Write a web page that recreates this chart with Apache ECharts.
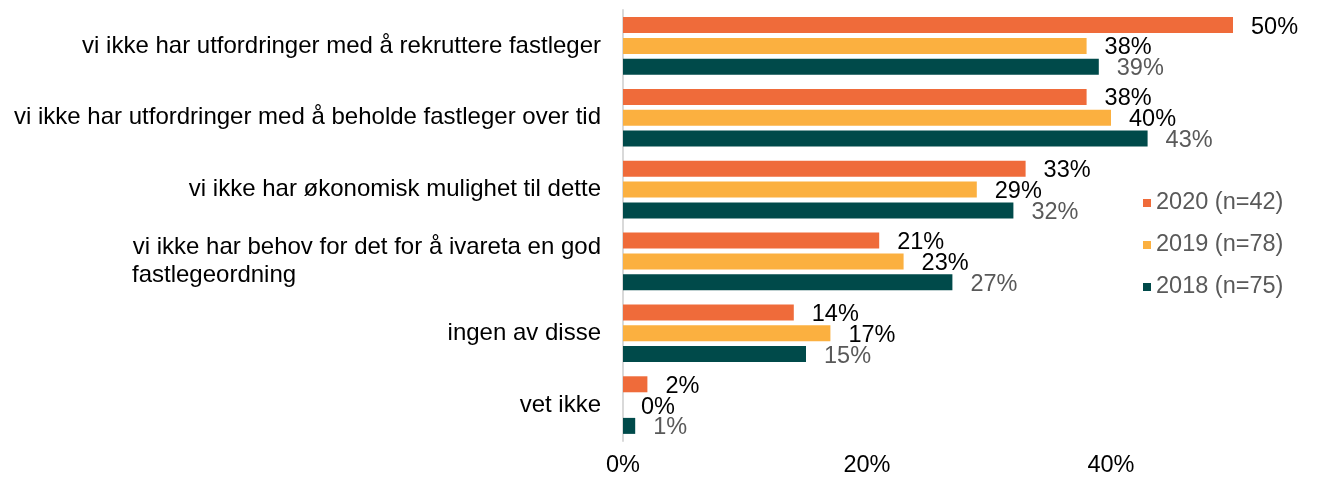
<!DOCTYPE html>
<html>
<head>
<meta charset="utf-8">
<script src="https://cdn.jsdelivr.net/npm/echarts@6/dist/echarts.min.js"></script>
<style>
  html, body { margin: 0; padding: 0; background: #fff; }
  #chart { width: 1317px; height: 480px; }
</style>
</head>
<body>
<div id="chart"></div>
<script>
const categories = [
  'vi ikke har utfordringer med å rekruttere fastleger',
  'vi ikke har utfordringer med å beholde fastleger over tid',
  'vi ikke har økonomisk mulighet til dette',
  'vi ikke har behov for det for å ivareta en god\nfastlegeordning',
  'ingen av disse',
  'vet ikke'
]
const data2020 = [50, 38, 33, 21, 14, 2]
const data2019 = [38, 40, 29, 23, 17, 0]
const data2018 = [39, 43, 32, 27, 15, 1]
const xTicks = [0, 20, 40]

const font = 'Liberation Sans, Arial, sans-serif'
const fs = 23.5
const catFs = 24

// width of the first line, so the second line starts at the same left edge
const ctx = document.createElement('canvas').getContext('2d')
ctx.font = catFs + 'px ' + font

const chart = echarts.init(document.getElementById('chart'))

function barSeries(name, values, color, labelColor) {
  return {
    name: name,
    type: 'bar',
    data: values,
    barWidth: 16,
    barGap: '30%',
    itemStyle: { color: color },
    label: {
      show: true,
      position: 'right',
      distance: 18,
      offset: [0, 2],
      formatter: '{c}%',
      fontFamily: font,
      fontSize: fs,
      color: labelColor
    }
  }
}

chart.setOption({
  animation: false,
  textStyle: { fontFamily: font },
  grid: { left: 623, right: 84, top: 10, bottom: 39 },
  legend: {
    orient: 'vertical',
    left: 1138,
    top: 186,
    icon: 'rect',
    itemWidth: 8,
    itemHeight: 8,
    itemGap: 18,
    data: ['2020 (n=42)', '2019 (n=78)', '2018 (n=75)'],
    textStyle: { fontFamily: font, fontSize: fs, color: '#595959', lineHeight: 24 }
  },
  xAxis: {
    type: 'value',
    min: 0,
    max: 50,
    interval: 20,
    axisLine: { show: false },
    axisTick: { show: false },
    splitLine: { show: false },
    axisLabel: {
      margin: 13,
      fontFamily: font,
      fontSize: fs,
      color: '#000',
      formatter: function (v) {
        return xTicks.indexOf(v) >= 0 ? v + '%' : ''
      }
    }
  },
  yAxis: {
    type: 'category',
    inverse: true,
    data: categories,
    axisLine: { lineStyle: { color: '#d9d9d9', width: 2 } },
    axisTick: { length: 7, lineStyle: { color: '#d9d9d9', width: 2 } },
    axisLabel: {
      margin: 22,
      fontFamily: font,
      fontSize: catFs,
      color: '#000',
      lineHeight: 28,
      formatter: function (v) {
        const lines = v.split('\n')
        if (lines.length === 1) return v
        return lines[0] + '\n{l|' + lines[1] + '}'
      },
      rich: {
        l: {
          fontFamily: font,
          fontSize: catFs,
          color: '#000',
          lineHeight: 28,
          align: 'left',
          width: Math.ceil(ctx.measureText('vi ikke har behov for det for å ivareta en god').width)
        }
      }
    }
  },
  series: [
    barSeries('2020 (n=42)', data2020, '#ef6b3a', '#000'),
    barSeries('2019 (n=78)', data2019, '#fbb040', '#000'),
    barSeries('2018 (n=75)', data2018, '#004a4a', '#595959')
  ]
})
</script>
</body>
</html>
